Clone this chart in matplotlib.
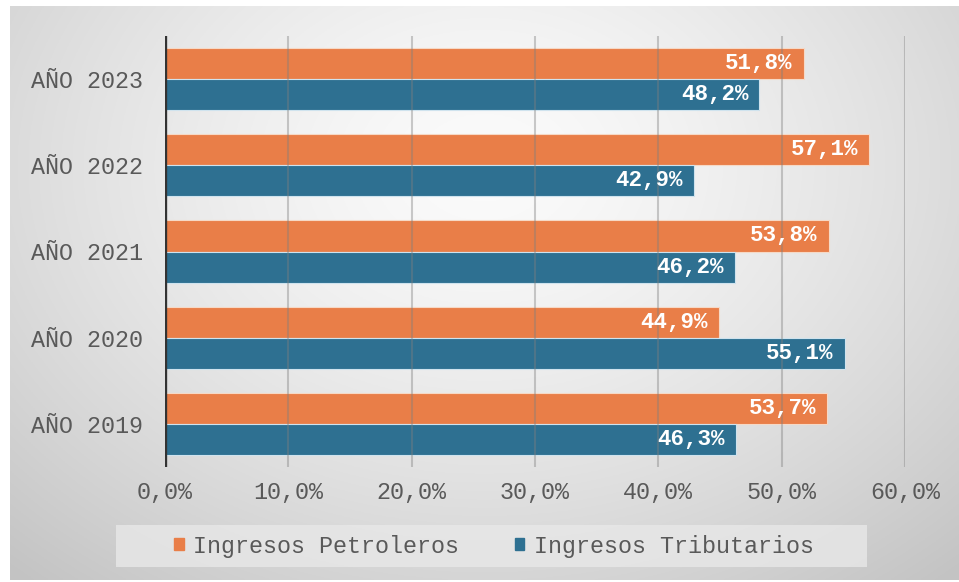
import numpy as np
import matplotlib.pyplot as plt
from matplotlib.patches import Patch, Rectangle

# Datos
anios = ["AÑO 2019", "AÑO 2020", "AÑO 2021", "AÑO 2022", "AÑO 2023"]
petroleros = [53.7, 44.9, 53.8, 57.1, 51.8]
tributarios = [46.3, 55.1, 46.2, 42.9, 48.2]
ticks = [0, 10, 20, 30, 40, 50, 60]

naranja = "#E97E48"
azul = "#2E7091"
fuente = "Liberation Mono"
fs = 16.8

W, H = 959, 582
fig = plt.figure(figsize=(W / 100, H / 100), dpi=100)
fig.patch.set_facecolor("white")

# Fondo con degradado radial
bg = fig.add_axes([10 / W, 2 / H, (W - 10) / W, (H - 8) / H])
yy, xx = np.mgrid[0:1:300j, 0:1:500j]
r = np.sqrt(((xx - 0.5) / 0.75) ** 2 + ((yy - 0.72) / 0.95) ** 2)
gris = 0.985 - 0.22 * np.clip(r, 0, 1) ** 1.4
bg.imshow(np.dstack([gris, gris, gris]), origin="lower", aspect="auto",
          extent=[0, 1, 0, 1])
bg.set_axis_off()

# Grafico
ax = fig.add_axes([165 / W, 1 - 467 / H, 740 / W, 431 / H])
ax.set_facecolor("none")
y = np.arange(len(anios))
h = 0.36
ax.barh(y + h / 2, petroleros, height=h, color=naranja, edgecolor="#F6D9C6",
        linewidth=0.8, label="Ingresos Petroleros", zorder=2)
ax.barh(y - h / 2, tributarios, height=h, color=azul, edgecolor="#CFE3EE",
        linewidth=0.8, label="Ingresos Tributarios", zorder=2)

for i in range(len(anios)):
    ax.text(petroleros[i] - 0.9, y[i] + h / 2, f"{petroleros[i]:.1f}%".replace(".", ","),
            ha="right", va="center", color="white", fontweight="bold",
            fontsize=fs - 0.6, family=fuente, zorder=4)
    ax.text(tributarios[i] - 0.9, y[i] - h / 2, f"{tributarios[i]:.1f}%".replace(".", ","),
            ha="right", va="center", color="white", fontweight="bold",
            fontsize=fs - 0.6, family=fuente, zorder=4)

ax.set_xlim(0, 60)
ax.set_ylim(-0.5, len(anios) - 0.5)
ax.set_xticks(ticks)
ax.set_xticklabels([f"{t:.1f}%".replace(".", ",") for t in ticks])
ax.set_yticks(y)
ax.set_yticklabels(anios)
for t in ax.get_xticklabels() + ax.get_yticklabels():
    t.set_family(fuente)
    t.set_fontsize(fs)
    t.set_color("#595959")
ax.tick_params(length=0, pad=10)
ax.tick_params(axis="y", pad=16)

# Lineas de cuadricula encima de las barras
for t in ticks[1:]:
    ax.axvline(t, color="#7F7F7F", linewidth=1.5, alpha=0.4, zorder=3)
ax.axvline(0, color="#333333", linewidth=2.4, zorder=5)
for s in ax.spines.values():
    s.set_visible(False)

# Leyenda
fig.patches.append(Rectangle((116 / W, 1 - 567 / H), 751 / W, 42 / H,
                             transform=fig.transFigure, facecolor="#E8E8E8",
                             edgecolor="none", alpha=0.8, zorder=1))
handles = [Patch(color=naranja, label="Ingresos Petroleros"),
           Patch(color=azul, label="Ingresos Tributarios")]
leg = fig.legend(handles=handles, loc="center", bbox_to_anchor=(494 / W, 1 - 546 / H),
                 ncol=2, frameon=False, handlelength=0.4, handleheight=0.4,
                 handletextpad=0.4, columnspacing=2.4,
                 prop={"family": fuente, "size": fs})
for t in leg.get_texts():
    t.set_color("#595959")

fig.savefig("out.png", dpi=100)
